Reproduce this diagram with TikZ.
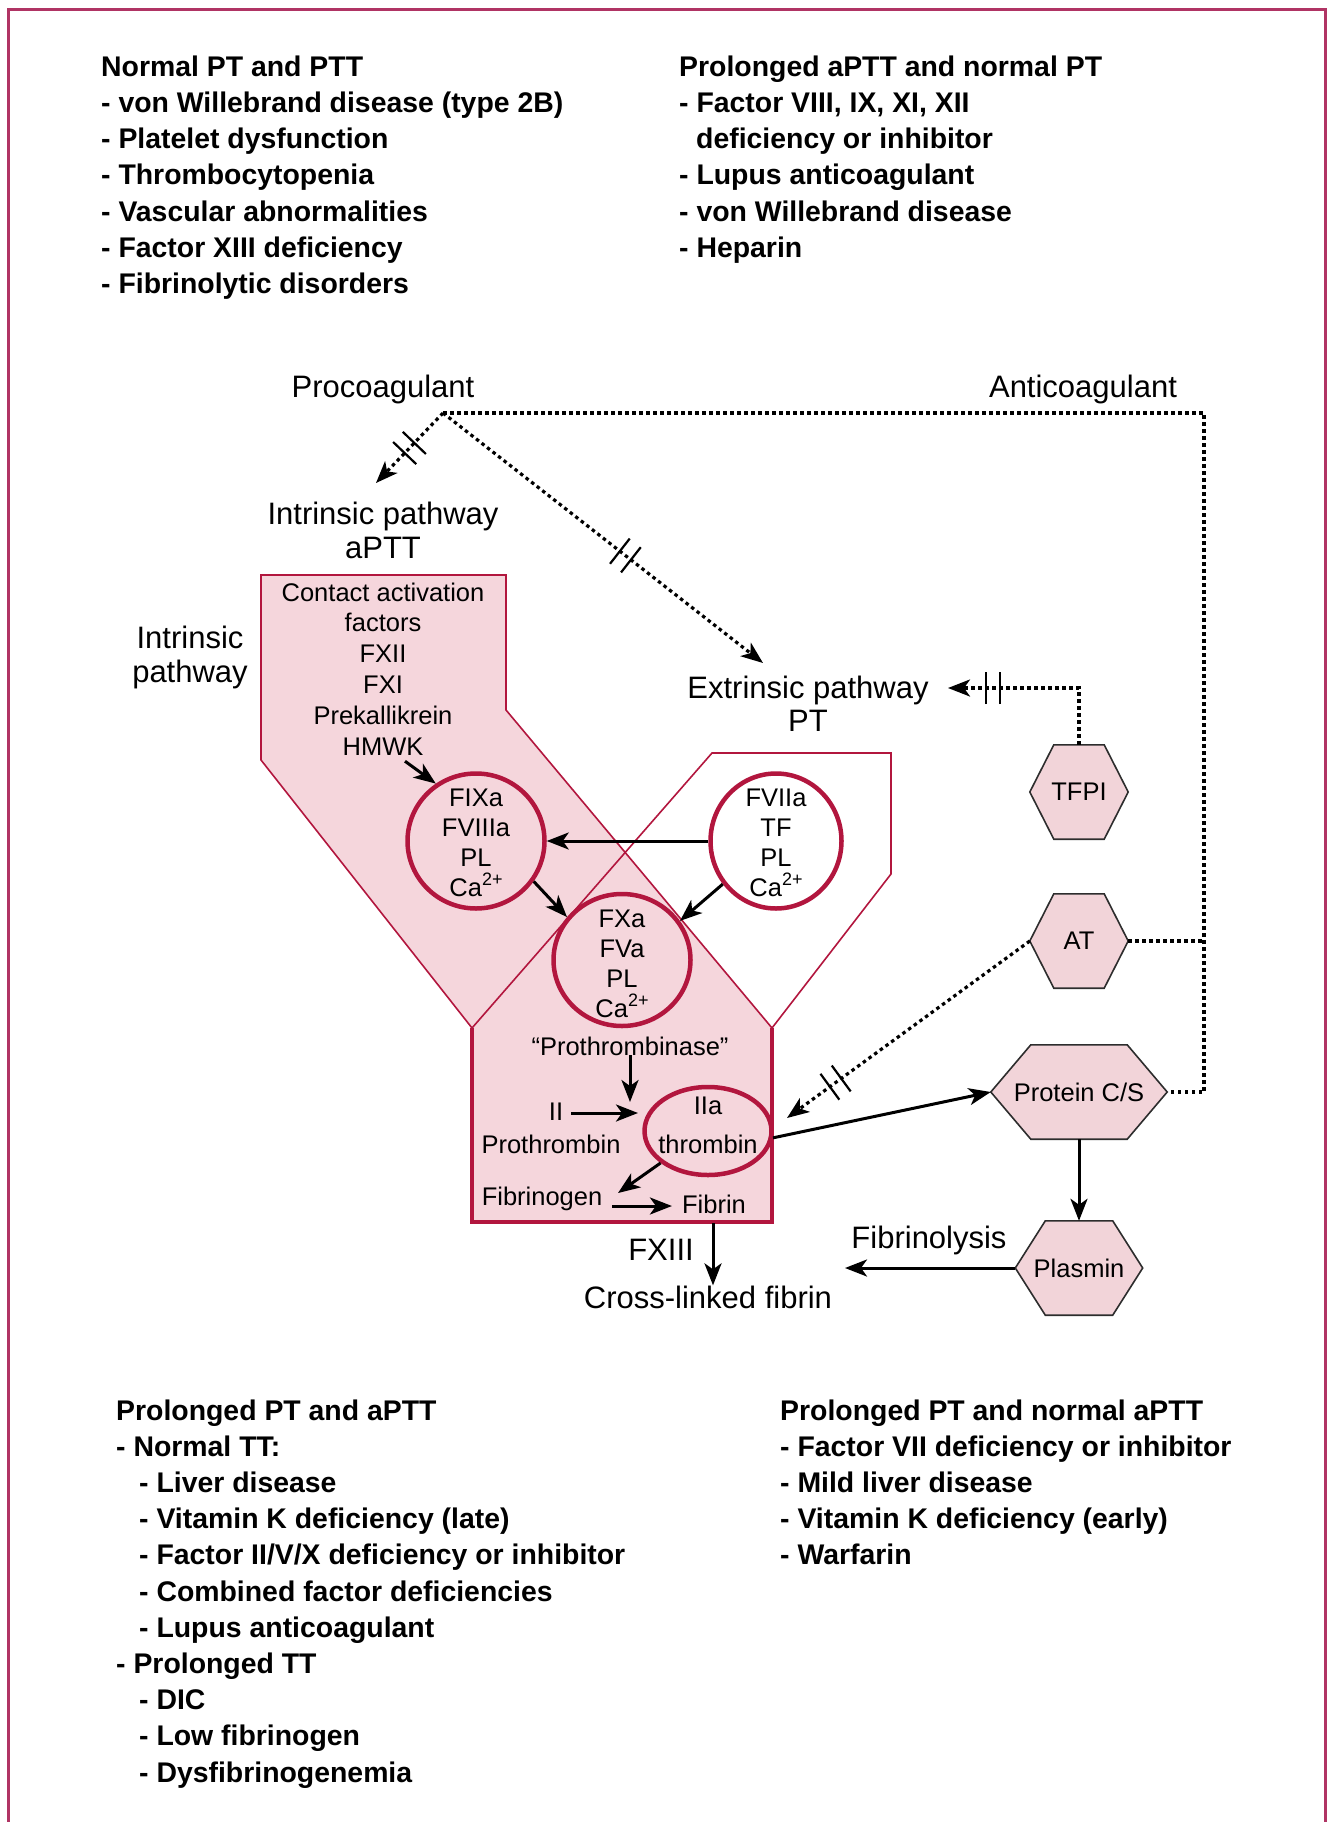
\documentclass[tikz,border=0pt]{standalone}
\usepackage{fontspec}
\setmainfont{Liberation Sans}
\usetikzlibrary{arrows.meta,shapes.geometric,decorations.markings,calc,backgrounds}

\definecolor{crim}{RGB}{178,22,62}
\definecolor{pinkfill}{RGB}{245,214,220}
\definecolor{hexfill}{RGB}{242,212,217}
\definecolor{framec}{RGB}{176,52,100}
\definecolor{hexline}{RGB}{45,45,45}

\newcommand\catwo{Ca\raisebox{0.42em}{\fontsize{18}{18}\selectfont 2+}}

\begin{document}
\begin{tikzpicture}[x=1pt,y=-1pt,
  listtxt/.style={anchor=base west, inner sep=0pt, font=\fontsize{28.4}{36}\selectfont\bfseries},
  lbl/.style={anchor=base, inner sep=0pt, font=\fontsize{31}{34}\selectfont},
  innertxt/.style={anchor=base, inner sep=0pt, font=\fontsize{25.5}{30}\selectfont},
  ring/.style={ellipse, draw=crim, line width=4.5pt, inner sep=0pt},
  hexa/.style={rectangle, inner sep=0pt, font=\fontsize{25.5}{30}\selectfont},
  hexshape/.style={fill=hexfill, draw=hexline, line width=1.6pt, line join=miter},
  arr/.style={line width=3pt, -{Stealth[length=22pt,width=17pt,inset=6pt]}},
  dotline/.style={line width=3.2pt, dash pattern=on 3.5pt off 3.5pt},
  dotarr/.style={dotline, -{Stealth[length=22pt,width=17pt,inset=6pt]}},
  hashmark/.style={postaction={decorate}, decoration={markings,
      mark=at position #1 with {\draw[solid, -, line width=2.2pt, black] (-7,-16) -- (-7,16) (7,-16) -- (7,16);}}}
]
\useasboundingbox (0,0) rectangle (1328,1822);

% outer frame, open at the bottom
\draw[framec, line width=3pt] (8,1822) -- (8,10) -- (1325,10) -- (1325,1822);

% intrinsic band joined with the common-pathway box
\fill[pinkfill] (261,575) -- (506,575) -- (506,710) -- (772,1028) -- (772,1222)
  -- (472,1222) -- (472,1028) -- (261,760) -- cycle;
\draw[crim, line width=1.6pt, line join=miter]
  (472,1028) -- (261,760) -- (261,575) -- (506,575) -- (506,710) -- (772,1028);
% extrinsic band (outline only)
\draw[crim, line width=1.6pt, line join=miter]
  (472,1028) -- (712,753) -- (891,753) -- (891,874) -- (772,1028);
% common pathway box
\draw[crim, line width=3.5pt] (472,1028) -- (472,1222) -- (772,1222) -- (772,1028);

% enzyme complexes
\node[ring, minimum width=137pt, minimum height=135pt] (fix) at (476,841) {};
\node[ring, minimum width=131pt, minimum height=135pt] (fvii) at (776,841) {};
\node[ring, minimum width=137pt, minimum height=132pt] (fxa) at (622,960) {};
\node[ring, minimum width=127pt, minimum height=88pt] (thr) at (708,1131) {};

\foreach \t [count=\i from 0] in {FIXa, FVIIIa, PL, \catwo}
  \node[innertxt] (fixt\i) at (476,806+30*\i) {\t};
\foreach \t [count=\i from 0] in {FVIIa, TF, PL, \catwo}
  \node[innertxt] (fviit\i) at (776,806+30*\i) {\t};
\foreach \t [count=\i from 0] in {FXa, FVa, PL, \catwo}
  \node[innertxt] (fxat\i) at (622,927+30*\i) {\t};
\foreach \t [count=\i from 0] in {Contact activation, factors, FXII, FXI, Prekallikrein, HMWK}
  \node[innertxt] (ib\i) at (383,601+30.8*\i) {\t};

% common pathway texts
\node[innertxt] (ptase) at (630,1055) {“Prothrombinase”};
\node[innertxt] (ii) at (556,1120) {II};
\node[innertxt] (prothr) at (551,1153) {Prothrombin};
\node[innertxt] (iia) at (708,1114) {IIa};
\node[innertxt] (thrt) at (708,1153) {thrombin};
\node[innertxt] (fbg) at (542,1205) {Fibrinogen};
\node[innertxt] (fbn) at (714,1213) {Fibrin};
\node[lbl] (fx13) at (661,1260) {FXIII};
\node[lbl] (xlf) at (708,1308) {Cross-linked fibrin};

% pathway labels
\node[lbl] (proco) at (383,397) {Procoagulant};
\node[lbl] (antico) at (1083,397) {Anticoagulant};
\node[lbl] (intrl1) at (383,524) {Intrinsic pathway};
\node[lbl] (intrl2) at (383,558) {aPTT};
\node[lbl] (extl1) at (808,698) {Extrinsic pathway};
\node[lbl] (extl2) at (808,731) {PT};
\node[lbl] (side1) at (190,648) {Intrinsic};
\node[lbl] (side2) at (190,682) {pathway};
\node[lbl] (fibl) at (929,1248) {Fibrinolysis};

% inhibitors
\node[hexa, minimum width=98pt, minimum height=94pt] (tfpi) at (1079,792) {TFPI};
\node[hexa, minimum width=98pt, minimum height=94pt] (atn) at (1079,941) {AT};
\node[hexa, minimum width=176pt, minimum height=94pt] (pcs) at (1079,1092) {Protein C/S};
\node[hexa, minimum width=127pt, minimum height=94pt] (plas) at (1079,1268) {Plasmin};
\begin{scope}[on background layer]
  \foreach \n/\s in {tfpi/24, atn/24, pcs/40, plas/30}
    \draw[hexshape] (\n.west) -- ($(\n.north west)+(\s,0)$) -- ($(\n.north east)+(-\s,0)$)
      -- (\n.east) -- ($(\n.south east)+(-\s,0)$) -- ($(\n.south west)+(\s,0)$) -- cycle;
\end{scope}

% solid reaction arrows
\draw[arr] ($(ib5.south)+(22,6)$) -- (fix.125);
\draw[arr] (fvii.west) -- (fix.east);
\draw[arr] (fix.-35) -- (fxa.142);
\draw[arr] (fvii.219) -- (fxa.34);
\coordinate (ptip) at (630,1102);
\draw[arr] (ptase) -- (ptip);
\coordinate (iitip) at (638,1113);
\draw[arr] ($(ii.east |- iitip)+(8,0)$) -- (iitip);
\coordinate (fbgtip) at (618,1193);
\draw[arr] (thr.214) -- (fbgtip);
\draw[arr] ($(fbg.base east)+(10,1)$) -- ($(fbn.west |- fbg.base east)+(-10,1)$);
\coordinate (boxbot) at (713,1223);
\draw[arr] (boxbot) -- (boxbot |- xlf.north);
\draw[arr] (thr.-6) -- (pcs.west);
\draw[arr] (pcs.south) -- (plas.north);
\coordinate (fltip) at (845,1268);
\draw[arr] (plas.west) -- (fltip);

% regulatory (dotted) connections
\coordinate (jn) at (443,413);
\coordinate (corner) at (1204,413);
\draw[dotline] (jn) -- (corner) |- (pcs.east);
\draw[dotline] (atn.east) -- (atn.east -| corner);
\coordinate (intip) at (376,483);
\draw[dotarr, hashmark=0.5] (jn) -- (intip);
\coordinate (extip) at (763,663);
\draw[dotarr, hashmark=0.57] (jn) -- (extip);
\coordinate (tftip) at (948,688);
\draw[dotarr, hashmark=0.76] (tfpi.north) |- (tftip);
\coordinate (attip) at (787,1118);
\draw[dotarr, hashmark=0.8] (atn.west) -- (attip);

% test interpretation lists
\foreach \t [count=\i from 0] in {Normal PT and PTT, - von Willebrand disease (type 2B),
    - Platelet dysfunction, - Thrombocytopenia, - Vascular abnormalities,
    - Factor XIII deficiency, - Fibrinolytic disorders}
  \node[listtxt] (tl\i) at (101,77+36*\i) {\t};
\foreach \dx/\t [count=\i from 0] in {0/{Prolonged aPTT and normal PT}, 0/{- Factor VIII, IX, XI, XII},
    17/{deficiency or inhibitor}, 0/{- Lupus anticoagulant}, 0/{- von Willebrand disease},
    0/{- Heparin}}
  \node[listtxt] (tr\i) at (679+\dx,77+36*\i) {\t};
\foreach \dx/\t [count=\i from 0] in {0/{Prolonged PT and aPTT}, 0/{- Normal TT:},
    23/{- Liver disease}, 23/{- Vitamin K deficiency (late)},
    23/{- Factor II/V/X deficiency or inhibitor}, 23/{- Combined factor deficiencies},
    23/{- Lupus anticoagulant}, 0/{- Prolonged TT}, 23/{- DIC}, 23/{- Low fibrinogen},
    23/{- Dysfibrinogenemia}}
  \node[listtxt] (bl\i) at (116+\dx,1420+36.2*\i) {\t};
\foreach \t [count=\i from 0] in {Prolonged PT and normal aPTT, - Factor VII deficiency or inhibitor,
    - Mild liver disease, - Vitamin K deficiency (early), - Warfarin}
  \node[listtxt] (br\i) at (780,1420+36.2*\i) {\t};
\end{tikzpicture}
\end{document}
